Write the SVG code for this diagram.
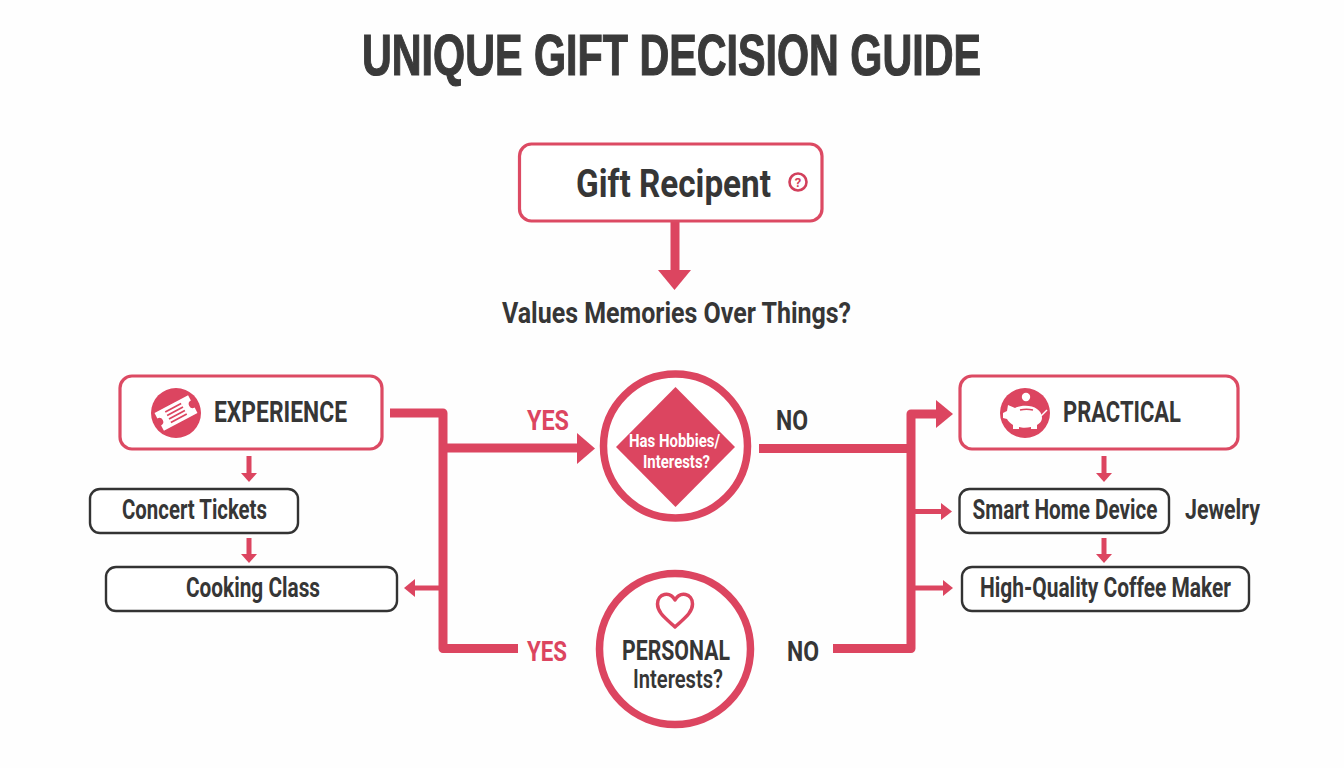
<svg xmlns="http://www.w3.org/2000/svg" width="1344" height="768" viewBox="0 0 1344 768">
<style>
text{font-family:"Roboto","Liberation Sans",sans-serif;font-weight:700;fill:#363636}
.title{font-family:"Liberation Sans",Arial,sans-serif;font-size:57px;fill:#3a3a3a;stroke:#3a3a3a;stroke-width:1.200px}
.red{fill:#dc4560}
.white{fill:#fff}
.mainbox{fill:#fff;stroke:#dc4a63;stroke-width:3.2}
.subbox{fill:#fff;stroke:#333;stroke-width:2.4}
.ring{fill:#fff;stroke:#dc4560;stroke-width:7.500}
.wire{fill:none;stroke:#dc4560;stroke-width:9;stroke-linejoin:round}
.thin{fill:none;stroke:#dc4560;stroke-width:5}
.head{fill:#dc4560}
</style>
<rect width="1344" height="768" fill="#fefefe"/>
<text class="title" x="362" y="74.500" textLength="619" lengthAdjust="spacingAndGlyphs">UNIQUE GIFT DECISION GUIDE</text>
<g id="connectors">
<path class="wire" d="M675 221V271"/><path class="head" d="M658 270H691L674.500 290Z"/>
<path class="wire" d="M390 413H443V648.500H518"/>
<path class="wire" d="M443 448H578"/><path class="head" d="M577 433L595 448.500L577 464Z"/>
<path class="wire" d="M759 448.500H911"/>
<path class="wire" d="M833 648.500H911V414H937"/><path class="head" d="M936 400L953 414L936 428Z"/>
<path class="thin" d="M249 456V474"/><path class="head" d="M241 473H257L249 482Z"/>
<path class="thin" d="M249 538V556"/><path class="head" d="M241 554H257L249 563Z"/>
<path class="thin" d="M440 588H414"/><path class="head" d="M415 579V597L404 588Z"/>
<path class="thin" d="M1104 456V474"/><path class="head" d="M1096 473H1112L1104 482Z"/>
<path class="thin" d="M1104 538V556"/><path class="head" d="M1096 554H1112L1104 563Z"/>
<path class="thin" d="M915 511.500H942"/><path class="head" d="M941 503V520L952 511.500Z"/>
<path class="thin" d="M915 588H944"/><path class="head" d="M943 580V596L953 588Z"/>
</g>
<g id="gift-recipient">
<rect class="mainbox" x="519.500" y="144" width="302.500" height="77" rx="12"/>
<text transform="translate(576 197) scale(.8 1)" font-size="39" textLength="243.750" lengthAdjust="spacingAndGlyphs">Gift Recipent</text>
<circle cx="798" cy="182" r="8.500" fill="none" stroke="#d2405c" stroke-width="2.600"/>
<text x="798" y="187" font-size="13" text-anchor="middle" style="fill:#d2405c">?</text>
</g>
<g id="values-question">
<text x="502" y="323" font-size="29" textLength="349" lengthAdjust="spacingAndGlyphs">Values Memories Over Things?</text>
</g>
<g id="experience">
<rect class="mainbox" x="120" y="376" width="262" height="73" rx="12"/>
<circle class="red" cx="176" cy="413" r="25"/>
<g transform="rotate(-28 176 413)">
<path class="white" d="M157 403H195V409A4 4 0 0 0 195 417V423H157V417A4 4 0 0 0 157 409Z"/>
<path d="M167 407H185M167 411H185M167 415H185M167 419H185" stroke="#dc4560" stroke-width="1.800" fill="none"/>
</g>
<text x="214" y="422" font-size="29" textLength="133" lengthAdjust="spacingAndGlyphs">EXPERIENCE</text>
</g>
<g id="concert-tickets">
<rect class="subbox" x="90" y="489" width="208" height="44" rx="10"/>
<text x="122" y="518.500" font-size="27" textLength="145" lengthAdjust="spacingAndGlyphs">Concert Tickets</text>
</g>
<g id="cooking-class">
<rect class="subbox" x="106" y="567" width="291" height="44" rx="10"/>
<text x="186" y="597" font-size="27" textLength="134" lengthAdjust="spacingAndGlyphs">Cooking Class</text>
</g>
<g id="hobbies">
<circle class="ring" cx="675.500" cy="446" r="72"/>
<path class="red" d="M675.500 387L735 447L675.500 507L616 447Z"/>
<text x="629" y="446.500" font-size="18" textLength="91" lengthAdjust="spacingAndGlyphs" style="fill:#fff">Has Hobbies/</text>
<text x="643" y="467.500" font-size="18" textLength="67" lengthAdjust="spacingAndGlyphs" style="fill:#fff">Interests?</text>
</g>
<g id="personal">
<circle class="ring" cx="675" cy="649" r="75.500"/>
<path d="M675 627C664 617 657.500 612 657.500 604C657.500 593 670 591 675 600C680 591 692.500 593 692.500 604C692.500 612 686 617 675 627Z" fill="none" stroke="#dc4560" stroke-width="3.500" stroke-linejoin="round"/>
<text x="622" y="659.500" font-size="28" textLength="108" lengthAdjust="spacingAndGlyphs">PERSONAL</text>
<text x="633" y="688" font-size="25" textLength="90" lengthAdjust="spacingAndGlyphs" style="font-weight:600">Interests?</text>
</g>
<g id="practical">
<rect class="mainbox" x="960" y="376" width="278" height="73" rx="12"/>
<circle class="red" cx="1025" cy="413" r="25"/>
<circle class="white" cx="1026" cy="397" r="4.200"/>
<path class="white" d="M1008 405L1015 408C1021 405 1032 405 1037 409C1040 411 1042 414 1042 418C1042 421 1040 423 1037 425V429H1031V427C1027 428 1022 428 1019 427V429H1013V425C1010 423 1008 421 1007 419L1003 418V413L1007 411Z"/>
<path d="M1020 410C1024 409 1029 409 1033 410" stroke="#dc4560" stroke-width="1.500" fill="none"/>
<path d="M1041 416L1047 410" stroke="#fff" stroke-width="1.500" fill="none"/>
<text x="1063" y="422" font-size="29" textLength="118" lengthAdjust="spacingAndGlyphs">PRACTICAL</text>
</g>
<g id="smart-home">
<rect class="subbox" x="959.500" y="489" width="209.500" height="44" rx="10"/>
<text transform="translate(972.500 518.500) scale(.76 1)" font-size="27" textLength="243.400" lengthAdjust="spacingAndGlyphs">Smart Home Device</text>
</g>
<g id="jewelry">
<text x="1185" y="518.500" font-size="27" textLength="75" lengthAdjust="spacingAndGlyphs">Jewelry</text>
</g>
<g id="coffee-maker">
<rect class="subbox" x="962" y="567" width="287" height="44" rx="10"/>
<text x="980" y="597" font-size="27" textLength="251" lengthAdjust="spacingAndGlyphs">High-Quality Coffee Maker</text>
</g>
<g id="labels">
<text x="527" y="430" font-size="28" textLength="42" lengthAdjust="spacingAndGlyphs" style="fill:#dc4560">YES</text>
<text x="776" y="430" font-size="28" textLength="32" lengthAdjust="spacingAndGlyphs">NO</text>
<text x="527" y="661" font-size="28" textLength="40" lengthAdjust="spacingAndGlyphs" style="fill:#dc4560">YES</text>
<text x="787" y="661" font-size="28" textLength="32" lengthAdjust="spacingAndGlyphs">NO</text>
</g>
</svg>
